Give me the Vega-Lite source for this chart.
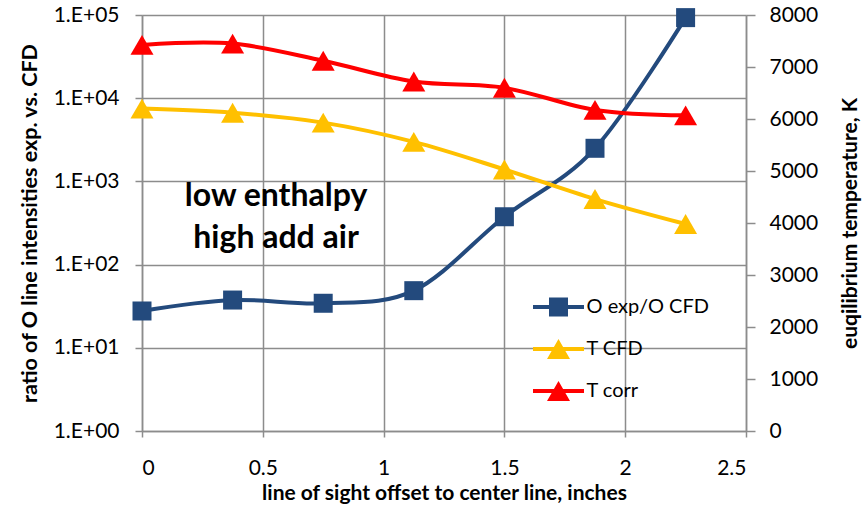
{
  "$schema": "https://vega.github.io/schema/vega-lite/v6.json",
  "width": 604,
  "height": 416,
  "autosize": {"type": "none"},
  "padding": {"left": 142, "top": 15, "right": 119, "bottom": 75},
  "background": "white",
  "config": {
    "font": "Lato",
    "view": {"fill": "#F2F2F2", "stroke": null},
    "axis": {
      "labelFont": "Lato",
      "labelFontSize": 21,
      "labelColor": "#000000",
      "titleFont": "Lato",
      "titleFontSize": 21.5,
      "titleFontWeight": "bold",
      "titleColor": "#000000",
      "domainColor": "#8c8c8c",
      "domainWidth": 1.5,
      "tickColor": "#8c8c8c",
      "tickWidth": 1.5,
      "gridColor": "#8c8c8c",
      "gridWidth": 1.5,
      "gridOpacity": 1
    },
    "legend": {"labelFont": "Lato", "labelFontSize": 20, "labelColor": "#000000"}
  },
  "datasets": {
    "d": [
      {"x": 0, "series": "O exp/O CFD", "v": 27.7},
      {"x": 0.375, "series": "O exp/O CFD", "v": 37.5},
      {"x": 0.75, "series": "O exp/O CFD", "v": 34.3},
      {"x": 1.125, "series": "O exp/O CFD", "v": 48.6},
      {"x": 1.5, "series": "O exp/O CFD", "v": 376},
      {"x": 1.875, "series": "O exp/O CFD", "v": 2500},
      {"x": 2.25, "series": "O exp/O CFD", "v": 93000},
      {"x": 0, "series": "T CFD", "v": 6200},
      {"x": 0.375, "series": "T CFD", "v": 6120},
      {"x": 0.75, "series": "T CFD", "v": 5930},
      {"x": 1.125, "series": "T CFD", "v": 5560},
      {"x": 1.5, "series": "T CFD", "v": 5030},
      {"x": 1.875, "series": "T CFD", "v": 4460},
      {"x": 2.25, "series": "T CFD", "v": 3980},
      {"x": 0, "series": "T corr", "v": 7425},
      {"x": 0.375, "series": "T corr", "v": 7450},
      {"x": 0.75, "series": "T corr", "v": 7120},
      {"x": 1.125, "series": "T corr", "v": 6720},
      {"x": 1.5, "series": "T corr", "v": 6600},
      {"x": 1.875, "series": "T corr", "v": 6175},
      {"x": 2.25, "series": "T corr", "v": 6070}
    ]
  },
  "layer": [
    {
      "encoding": {
        "x": {
          "field": "x", "type": "quantitative",
          "scale": {"domain": [0, 2.5], "nice": false, "zero": false},
          "axis": {
            "title": "line of sight offset to center line, inches",
            "titleFontSize": 21,
            "values": [0, 0.5, 1, 1.5, 2, 2.5],
            "format": "~g",
            "grid": true,
            "tickSize": 6,
            "labelPadding": 20,
            "titlePadding": 4
          }
        },
        "y": {
          "field": "v", "type": "quantitative",
          "scale": {"type": "log", "domain": [1, 100000], "nice": false},
          "axis": {
            "title": "ratio of O line intensities exp. vs. CFD",
            "values": [1, 10, 100, 1000, 10000, 100000],
            "labelExpr": "'1.E+' + (round(log(datum.value)/LN10) < 10 ? '0' : '') + round(log(datum.value)/LN10)",
            "grid": true,
            "tickSize": 7,
            "labelPadding": 16,
            "titlePadding": 12
          }
        }
      },
      "layer": [
        {
          "data": {"name": "d"},
          "transform": [{"filter": "datum.series === 'O exp/O CFD'"}],
          "mark": {"type": "line", "interpolate": "cardinal", "strokeWidth": 4},
          "encoding": {
            "color": {"field": "series", "type": "nominal", "legend": null,
              "scale": {"domain": ["T CFD", "T corr", "O exp/O CFD"], "range": ["#FFC000", "#FF0000", "#234A7D"]}}
          }
        },
        {
          "data": {"name": "d"},
          "transform": [{"filter": "datum.series === 'O exp/O CFD'"}],
          "mark": {"type": "point", "shape": "square", "filled": true, "size": 361, "opacity": 1},
          "encoding": {
            "color": {"field": "series", "type": "nominal", "legend": null}
          }
        },
        {
          "data": {"values": [{"x": 0.555, "v": 667, "t": "low enthalpy\nhigh add air"}]},
          "mark": {"type": "text", "lineBreak": "\n", "fontSize": 32, "fontWeight": "bold", "lineHeight": 42, "align": "center", "baseline": "middle", "color": "#000000"},
          "encoding": {"text": {"field": "t", "type": "nominal"}}
        }
      ]
    },
    {
      "encoding": {
        "x": {"field": "x", "type": "quantitative", "scale": {"domain": [0, 2.5], "nice": false, "zero": false}},
        "y": {
          "field": "v", "type": "quantitative",
          "scale": {"domain": [0, 8000], "nice": false},
          "axis": {
            "orient": "right",
            "title": "euqilibrium temperature, K",
            "titleAngle": -90,
            "titleFontSize": 21,
            "values": [0, 1000, 2000, 3000, 4000, 5000, 6000, 7000, 8000],
            "format": "d",
            "grid": false,
            "tickSize": 9,
            "labelPadding": 14,
            "titlePadding": 43
          }
        }
      },
      "layer": [
        {
          "data": {"name": "d"},
          "transform": [{"filter": "datum.series !== 'O exp/O CFD'"}],
          "mark": {"type": "line", "interpolate": "cardinal", "strokeWidth": 4},
          "encoding": {
            "color": {"field": "series", "type": "nominal", "legend": null}
          }
        },
        {
          "data": {"name": "d"},
          "transform": [{"filter": "datum.series !== 'O exp/O CFD'"}],
          "mark": {"type": "point", "shape": "triangle-up", "filled": true, "size": 530, "opacity": 1},
          "encoding": {
            "color": {"field": "series", "type": "nominal", "legend": null}
          }
        }
      ]
    },
    {
      "data": {"name": "d"},
      "transform": [{"filter": "datum.v < 0"}],
      "mark": {"type": "point", "filled": true, "opacity": 1},
      "encoding": {
        "fill": {
          "field": "series", "type": "nominal",
          "scale": {"domain": ["O exp/O CFD", "T CFD", "T corr"], "range": ["#234A7D", "#FFC000", "#FF0000"]},
          "legend": {"title": null, "orient": "none", "legendX": 406.5, "legendY": 282, "symbolSize": 400, "symbolStrokeWidth": 0, "symbolOpacity": 1, "labelOffset": 18, "rowPadding": 22, "padding": 0}
        },
        "shape": {
          "field": "series", "type": "nominal",
          "scale": {"domain": ["O exp/O CFD", "T CFD", "T corr"], "range": [
            "M-2.55,-0.2H2.55V0.2H-2.55Z M-0.95,-0.95H0.95V0.95H-0.95Z",
            "M-2.55,-0.2H2.55V0.2H-2.55Z M0,-1L1.15,1H-1.15Z",
            "M-2.55,-0.2H2.55V0.2H-2.55Z M0,-1L1.15,1H-1.15Z"
          ]},
          "legend": {"title": null, "orient": "none", "legendX": 406.5, "legendY": 282, "symbolSize": 400, "symbolStrokeWidth": 0, "symbolOpacity": 1, "labelOffset": 18, "rowPadding": 22, "padding": 0}
        }
      }
    }
  ],
  "resolve": {"scale": {"y": "independent"}}
}
